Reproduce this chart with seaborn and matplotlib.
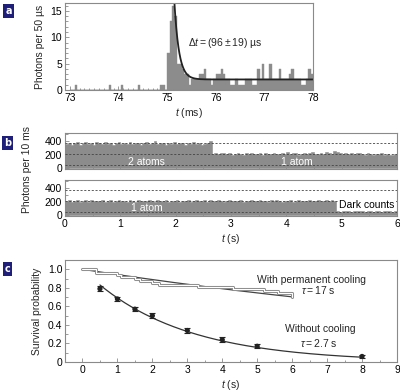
import numpy as np
import pandas as pd
import matplotlib
matplotlib.use("Agg")
import matplotlib.pyplot as plt
from matplotlib.ticker import MultipleLocator, FuncFormatter
import seaborn as sns

sns.set_style("ticks")
plt.rcParams['font.family'] = ['Liberation Sans', 'DejaVu Sans']
plt.rcParams['mathtext.fontset'] = 'custom'
plt.rcParams['mathtext.rm'] = 'Liberation Sans'
plt.rcParams['mathtext.it'] = 'Liberation Sans:italic'

GRAY = '#8c8c8c'
SPINE = '#8a8a8a'
NAVY = '#1f1f7a'
FS = 7.5

# ---- panel a: photon arrival histogram, 50 us bins from 73 to 78 ms ----
a_bin_width = 0.05
a_counts = [0, 0, 1, 0, 0, 0, 0, 0, 0, 0, 0, 0, 0, 0, 0, 0, 1, 0, 0, 0,
            0, 1, 0, 0, 0, 0, 0, 0, 1, 0, 0, 0, 0, 0, 0, 0, 0, 1, 1, 0,
            7, 13, 16, 14, 5, 5, 4, 3, 3, 1, 2, 2, 2, 3, 3, 4, 2, 2, 1, 2,
            3, 3, 4, 3, 2, 2, 1, 1, 2, 1, 1, 1, 2, 2, 2, 1, 1, 4, 2, 5,
            2, 2, 5, 2, 2, 2, 4, 2, 2, 2, 3, 4, 2, 2, 2, 1, 1, 2, 4, 3]
a_start = 73.0
fit_a_t0 = 75.15     # ms
fit_a_amp = 14.5     # photons
fit_a_bg = 2.0       # photons
fit_a_dt = 0.096     # ms  (96 us)

# ---- panel b: fluorescence traces, shown here in 50 ms steps ----
b_bin_width = 0.05
b_top = [362, 378, 350, 371, 385, 344, 366, 392, 358, 373,
         349, 381, 367, 355, 388, 362, 374, 341, 369, 383,
         357, 376, 364, 390, 352, 371, 379, 346, 368, 384,
         360, 373, 395, 355, 366, 380, 348, 372, 362, 386,
         351, 375, 368, 343, 379, 361, 383, 356, 370, 347,
         364, 376, 398,
         214, 226, 205, 219, 231, 208, 222, 199, 216, 228,
         211, 203, 224, 217, 232, 206, 213, 221, 198, 227,
         215, 209, 230, 218, 204, 223, 212, 235, 207, 219,
         226, 201, 216, 229, 213, 222, 238, 211, 205, 224,
         217, 243, 229, 214, 252, 236, 220, 209, 227, 215,
         231, 206, 219, 224, 211, 203, 226, 214, 198, 218,
         207, 222, 196, 212, 201, 190, 205]
b_bottom = [208, 221, 197, 215, 226, 203, 212, 219, 200, 224,
            210, 206, 218, 229, 201, 214, 222, 195, 211, 226,
            207, 216, 203, 221, 213, 198, 225, 209, 217, 204,
            230, 212, 199, 220, 214, 207, 223, 201, 216, 211,
            226, 203, 218, 209, 221, 198, 213, 227, 206, 215,
            219, 202, 224, 211, 207, 232, 213, 200, 218, 222,
            205, 214, 209, 226, 197, 217, 212, 221, 204, 210,
            228, 206, 215, 201, 219, 213, 224, 208, 203, 217,
            211, 222, 199, 214, 226, 209, 216, 205, 221, 212,
            218, 229, 207, 215, 223, 211, 226, 218,
            62, 55, 68, 58, 64, 51, 60, 66, 57, 63,
            54, 61, 67, 56, 59, 65, 52, 62, 58, 64, 55, 60]
b_levels = [375, 215, 55]   # two atoms, one atom, dark counts

# ---- panel c: survival probability ----
cool_t = [0, 0.4, 1.0, 1.1, 1.5, 1.65, 2.0, 2.2, 3.3, 4.3, 5.2, 5.6, 6.0]
cool_p = [1.0, 0.965, 0.935, 0.915, 0.89, 0.87, 0.855, 0.835, 0.805, 0.785, 0.765, 0.745, 0.70]
tau_cool = 17.0
nocool_t = [0.5, 1, 1.5, 2, 3, 4, 5, 8]
nocool_p = [0.79, 0.68, 0.57, 0.50, 0.34, 0.24, 0.17, 0.06]
nocool_err = [0.025, 0.025, 0.025, 0.025, 0.025, 0.025, 0.02, 0.02]
tau_nocool = 2.7


def style_axis(ax):
    for s in ax.spines.values():
        s.set_visible(True)
        s.set_color(SPINE)
        s.set_linewidth(0.8)
    ax.tick_params(which='both', direction='in', colors=SPINE, labelcolor='black',
                   labelsize=FS, width=0.6, pad=2)
    ax.tick_params(which='major', length=3)
    ax.tick_params(which='minor', length=1.8)


def panel_tag(fig, x, y, letter):
    fig.text(x, y, letter, color='white', fontsize=7, weight='bold', ha='center', va='center',
             family=['DejaVu Sans'],
             bbox=dict(facecolor=NAVY, edgecolor='none', boxstyle='square,pad=0.2'))


fig = plt.figure(figsize=(4.0, 3.92), dpi=100)

# ================= panel a =================
axa = fig.add_axes([0.1625, 0.7704, 0.62, 0.2219])
a_edges = [a_start + a_bin_width * i for i in range(len(a_counts) + 1)]
df_a = pd.DataFrame({'t': [e + a_bin_width / 2 for e in a_edges[:-1]], 'n': a_counts})
sns.histplot(data=df_a, x='t', weights='n', bins=a_edges, element='step', fill=True,
             color=GRAY, alpha=1, linewidth=0.3, ax=axa)
t_fit = np.linspace(fit_a_t0 - 0.02, 78, 400)
sns.lineplot(x=t_fit, y=fit_a_bg + fit_a_amp * np.exp(-(t_fit - fit_a_t0) / fit_a_dt),
             color='#222222', lw=1.3, ax=axa)
axa.set_xlim(72.9, 78)
axa.set_ylim(0, 16.5)
axa.xaxis.set_major_locator(MultipleLocator(1))
axa.xaxis.set_minor_locator(MultipleLocator(0.1))
axa.yaxis.set_major_locator(MultipleLocator(5))
axa.yaxis.set_minor_locator(MultipleLocator(1))
style_axis(axa)
axa.set_xlabel(r'$t$ (ms)', fontsize=FS, labelpad=2)
axa.set_ylabel('Photons per 50 µs', fontsize=FS, labelpad=4)
axa.text(75.42, 9.0, r'$\Delta t = (96 \pm 19)$ µs', fontsize=FS, va='center')

# ================= panel b =================
axb1 = fig.add_axes([0.1625, 0.5689, 0.83, 0.0918])
axb2 = fig.add_axes([0.1625, 0.4490, 0.83, 0.0918])
b_edges = [b_bin_width * i for i in range(len(b_top) + 1)]
for ax, trace in [(axb1, b_top), (axb2, b_bottom)]:
    df_b = pd.DataFrame({'t': [e + b_bin_width / 2 for e in b_edges[:-1]], 'n': trace})
    sns.histplot(data=df_b, x='t', weights='n', bins=b_edges, element='step', fill=True,
                 color=GRAY, alpha=1, linewidth=0.4, ax=ax)
    for lev in b_levels:
        ax.axhline(lev, color='#444444', lw=0.6, ls=(0, (2.5, 2)), zorder=3)
    ax.set_xlim(0, 6)
    ax.set_ylim(-10, 520)
    ax.yaxis.set_major_locator(MultipleLocator(200))
    ax.yaxis.set_minor_locator(MultipleLocator(100))
    ax.xaxis.set_major_locator(MultipleLocator(1))
    ax.xaxis.set_minor_locator(MultipleLocator(0.5))
    style_axis(ax)
    ax.set_ylabel('')
axb1.set_xticklabels([])
axb1.set_xlabel('')
axb2.set_xlabel(r'$t$ (s)', fontsize=FS, labelpad=2)
axb1.text(1.48, 95, '2 atoms', color='white', fontsize=FS, ha='center', va='center', zorder=4)
axb1.text(4.19, 95, '1 atom', color='white', fontsize=FS, ha='center', va='center', zorder=4)
axb2.text(1.48, 105, '1 atom', color='white', fontsize=FS, ha='center', va='center', zorder=4)
axb2.text(5.45, 150, 'Dark counts', color='black', fontsize=FS, ha='center', va='center', zorder=5,
          bbox=dict(facecolor='white', edgecolor='none', pad=1))
fig.text(0.068, 0.568, 'Photons per 10 ms', rotation=90, fontsize=FS, ha='center', va='center')

# ================= panel c =================
axc = fig.add_axes([0.1625, 0.0765, 0.83, 0.2602])
t_c = np.linspace(0, 6, 200)
sns.lineplot(x=t_c, y=np.exp(-t_c / tau_cool), color='#444444', lw=0.9, ax=axc)
sns.lineplot(x=cool_t, y=cool_p, drawstyle='steps-post', color='#8a8a8a', lw=2.2, ax=axc)
sns.lineplot(x=cool_t, y=cool_p, drawstyle='steps-post', color='white', lw=0.8, ax=axc)
t_n = np.linspace(0.5, 8, 200)
sns.lineplot(x=t_n, y=np.exp(-t_n / tau_nocool), color='#333333', lw=0.9, ax=axc)
axc.errorbar(nocool_t, nocool_p, yerr=nocool_err, fmt='none', ecolor='#222222',
             elinewidth=0.8, capsize=2, capthick=0.8)
sns.scatterplot(x=nocool_t, y=nocool_p, color='#222222', s=14, marker='o',
                edgecolor='none', ax=axc, zorder=4)
axc.set_xlim(-0.5, 9)
axc.set_ylim(0, 1.1)
axc.xaxis.set_major_locator(MultipleLocator(1))
axc.xaxis.set_minor_locator(MultipleLocator(0.5))
axc.yaxis.set_major_locator(MultipleLocator(0.2))
axc.yaxis.set_minor_locator(MultipleLocator(0.1))
axc.yaxis.set_major_formatter(FuncFormatter(lambda v, p: '0' if abs(v) < 1e-9 else f'{v:.1f}'))
style_axis(axc)
axc.set_xlabel(r'$t$ (s)', fontsize=FS, labelpad=2)
axc.set_ylabel('Survival probability', fontsize=FS, labelpad=4)
axc.text(6.55, 0.885, 'With permanent cooling', fontsize=FS, ha='center', va='center')
axc.text(6.75, 0.775, r'$\tau = 17$ s', fontsize=FS, ha='center', va='center')
axc.text(6.8, 0.36, 'Without cooling', fontsize=FS, ha='center', va='center')
axc.text(6.75, 0.20, r'$\tau = 2.7$ s', fontsize=FS, ha='center', va='center')

panel_tag(fig, 0.021, 0.973, 'a')
panel_tag(fig, 0.019, 0.635, 'b')
panel_tag(fig, 0.019, 0.314, 'c')

fig.savefig('out.png', dpi=100)
